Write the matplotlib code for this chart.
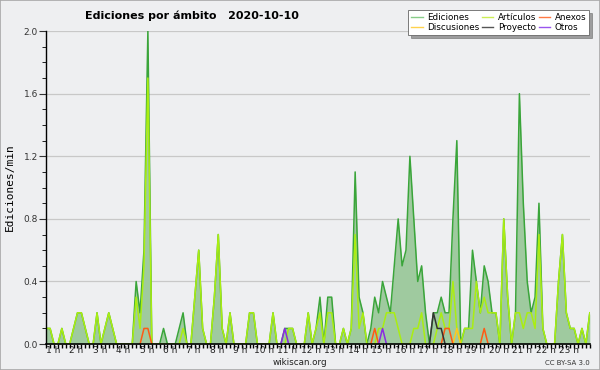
import numpy as np
import matplotlib.pyplot as plt
from matplotlib.ticker import MultipleLocator, FormatStrFormatter

# edits per minute, one value every 10 minutes
ediciones = [0.1, 0.1, 0, 0, 0.1, 0, 0, 0.1, 0.2, 0.2,
             0.1, 0, 0, 0.2, 0, 0.1, 0.2, 0.1, 0, 0,
             0, 0, 0, 0.4, 0.2, 0.6, 2.0, 0, 0, 0,
             0.1, 0, 0, 0, 0.1, 0.2, 0, 0, 0.3, 0.6,
             0.1, 0, 0, 0.3, 0.7, 0.1, 0, 0.2, 0, 0,
             0, 0, 0.2, 0.2, 0, 0, 0, 0, 0.2, 0,
             0, 0.1, 0.1, 0.1, 0, 0, 0, 0.2, 0, 0.1,
             0.3, 0, 0.3, 0.3, 0, 0, 0.1, 0, 0.1, 1.1,
             0.3, 0.2, 0, 0.1, 0.3, 0.2, 0.4, 0.3, 0.2, 0.5,
             0.8, 0.5, 0.6, 1.2, 0.8, 0.4, 0.5, 0.2, 0, 0.2,
             0.2, 0.3, 0.2, 0.2, 0.8, 1.3, 0, 0.1, 0.1, 0.6,
             0.4, 0.2, 0.5, 0.4, 0.2, 0.2, 0, 0.8, 0.3, 0,
             0.2, 1.6, 0.9, 0.4, 0.2, 0.3, 0.9, 0.1, 0, 0,
             0, 0.4, 0.7, 0.2, 0.1, 0.1, 0, 0.1, 0, 0.2]
articulos = [0.1, 0.1, 0, 0, 0.1, 0, 0, 0.1, 0.2, 0.2,
             0.1, 0, 0, 0.2, 0, 0.1, 0.2, 0.1, 0, 0,
             0, 0, 0, 0.3, 0.1, 0.5, 1.7, 0, 0, 0,
             0, 0, 0, 0, 0, 0.1, 0, 0, 0.3, 0.6,
             0.1, 0, 0, 0.3, 0.7, 0.1, 0, 0.2, 0, 0,
             0, 0, 0.2, 0.2, 0, 0, 0, 0, 0.2, 0,
             0, 0, 0.1, 0.1, 0, 0, 0, 0.2, 0, 0.1,
             0.2, 0, 0.2, 0.2, 0, 0, 0.1, 0, 0.1, 0.7,
             0.1, 0.2, 0, 0, 0, 0.1, 0.1, 0.2, 0.2, 0.2,
             0.1, 0, 0, 0, 0.1, 0.1, 0.2, 0, 0, 0,
             0.1, 0.2, 0.1, 0.1, 0.4, 0.1, 0, 0.1, 0.1, 0.1,
             0.4, 0.2, 0.3, 0.2, 0.2, 0.2, 0, 0.8, 0.3, 0,
             0.2, 0.2, 0.1, 0.2, 0.2, 0.1, 0.7, 0.1, 0, 0,
             0, 0.4, 0.7, 0.2, 0.1, 0.1, 0, 0.1, 0, 0.2]
# sparse series: {index: value}
anexos = {25: 0.1, 26: 0.1, 84: 0.1, 102: 0.1, 103: 0.1, 112: 0.1}
discusiones = {105: 0.1}
proyecto = {99: 0.2, 100: 0.1, 101: 0.1}
otros = {61: 0.1, 86: 0.1}
horas = ['%d h' % h for h in range(1, 24)]

n = len(ediciones)
x = np.arange(n)


def dense(d):
    v = np.zeros(n)
    for k, val in d.items():
        v[k] = val
    return v


bg = '#eeeff1'
fig = plt.figure(figsize=(6, 3.7), dpi=100, facecolor=bg)
fig.patches.append(plt.Rectangle((0, 0), 1, 1, transform=fig.transFigure,
                                 fill=False, edgecolor='#a8a8a8', lw=1.2))
ax = fig.add_axes([0.077, 0.070, 0.906, 0.846])
ax.set_facecolor(bg)

ax.fill_between(x, ediciones, color='#9fca9f', lw=0)
ax.plot(x, ediciones, color='#3aa53a', lw=1.1, label='Ediciones')
ax.plot(x, articulos, color='#aaee11', lw=1.1, label='Artículos')


def sparse_plot(d, color, label):
    v = dense(d)
    # only draw around non-zero points
    mask = np.zeros(n, bool)
    for k in d:
        mask[max(k - 1, 0):k + 2] = True
    vv = np.where(mask, v, np.nan)
    ax.plot(x, vv, color=color, lw=1.1, label=label)


sparse_plot(discusiones, '#ffc81e', 'Discusiones')
sparse_plot(anexos, '#ff5a14', 'Anexos')
sparse_plot(proyecto, '#333333', 'Proyecto')
sparse_plot(otros, '#8a2be2', 'Otros')

ax.set_xlim(0, n - 1)
ax.set_ylim(0, 2.0)
ax.yaxis.set_major_locator(MultipleLocator(0.4))
ax.yaxis.set_minor_locator(MultipleLocator(0.1))
ax.yaxis.set_major_formatter(FormatStrFormatter('%.1f'))
ax.grid(axis='y', which='major', color='#c8c8c8', lw=0.9)
ax.set_axisbelow(True)
for s in ['top', 'right']:
    ax.spines[s].set_visible(False)
ax.spines['left'].set_linewidth(1.0)
ax.spines['bottom'].set_linewidth(1.2)
ax.tick_params(axis='y', which='major', length=5, labelsize=6.5, colors='#333333', pad=1)
ax.tick_params(axis='y', which='minor', length=3)

ax.set_xticks(x, minor=True)
ax.set_xticks([6 * (h - 1) + 1.7 for h in range(1, 24)])
ax.set_xticklabels(horas)
ax.tick_params(axis='x', which='major', length=0, labelsize=6.5, pad=1.5, colors='#222222')
ax.tick_params(axis='x', which='minor', length=3, width=1)

ax.set_ylabel('Ediciones/min', fontsize=8, family='DejaVu Sans Mono', labelpad=6)

fig.text(0.142, 0.958, 'Ediciones por ámbito   2020-10-10', fontsize=8,
         fontweight='bold', va='center', ha='left')
fig.text(0.5, 0.02, 'wikiscan.org', fontsize=6.3, ha='center', va='center', color='#222222')
fig.text(0.983, 0.02, 'CC BY-SA 3.0', fontsize=5, ha='right', va='center', color='#333333')

order = ['Ediciones', 'Discusiones', 'Artículos', 'Proyecto', 'Anexos', 'Otros']
legend_colors = {'Ediciones': '#88cc88', 'Discusiones': '#ffd24d', 'Artículos': '#ccee55',
                 'Proyecto': '#555555', 'Anexos': '#ff7a44', 'Otros': '#9955ee'}
lh = [plt.Line2D([], [], color=legend_colors[k], lw=1.0) for k in order]
leg = fig.legend(lh, order, loc='upper right', bbox_to_anchor=(0.982, 0.972), ncol=3,
                 fontsize=6.3, frameon=True, fancybox=False, shadow=True,
                 handlelength=1.3, handletextpad=0.5, columnspacing=0.3,
                 labelspacing=0.05, borderpad=0.35, borderaxespad=0)
leg.get_frame().set_edgecolor('#666666')
leg.get_frame().set_linewidth(0.6)

fig.savefig('out.png', dpi=100, facecolor=bg)
